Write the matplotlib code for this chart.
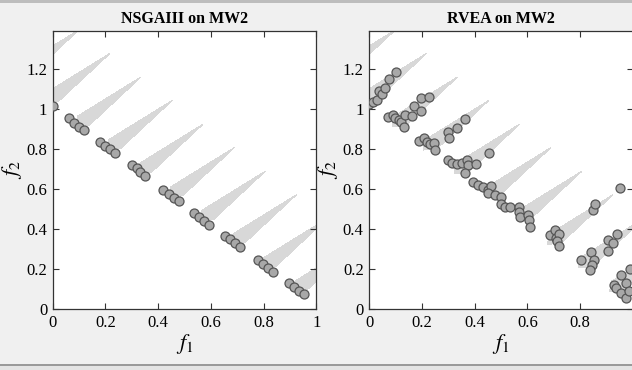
import numpy as np
import matplotlib.pyplot as plt
from matplotlib.patches import Rectangle

plt.rcParams['font.family'] = ['Liberation Serif', 'DejaVu Serif']
plt.rcParams['mathtext.fontset'] = 'stix'

# NSGA-III final population on MW2
nsga_f1 = [0.000, 0.062, 0.080, 0.101, 0.119, 0.178, 0.197, 0.216, 0.235,
           0.299, 0.318, 0.333, 0.352, 0.420, 0.441, 0.460, 0.479,
           0.537, 0.556, 0.575, 0.594, 0.654, 0.674, 0.693, 0.712,
           0.779, 0.798, 0.817, 0.836, 0.895, 0.916, 0.935, 0.952]
nsga_f2 = [1.015, 0.953, 0.931, 0.912, 0.895, 0.837, 0.817, 0.798, 0.779,
           0.720, 0.703, 0.687, 0.667, 0.595, 0.574, 0.557, 0.540,
           0.479, 0.459, 0.440, 0.420, 0.367, 0.348, 0.328, 0.310,
           0.245, 0.225, 0.207, 0.187, 0.132, 0.112, 0.092, 0.074]

# RVEA final population on MW2
rvea_f1 = [0.000, 0.013, 0.028, 0.038, 0.048, 0.061, 0.073, 0.101,
           0.071, 0.090, 0.098, 0.111, 0.121, 0.133, 0.134, 0.164, 0.168, 0.196, 0.197, 0.225,
           0.189, 0.206, 0.218, 0.232, 0.244, 0.249, 0.298, 0.303, 0.332, 0.363,
           0.297, 0.312, 0.331, 0.350, 0.369, 0.375, 0.362, 0.406, 0.454,
           0.394, 0.413, 0.431, 0.450, 0.463, 0.450, 0.476, 0.498, 0.501, 0.514, 0.533,
           0.568, 0.570, 0.573, 0.602, 0.606, 0.611,
           0.684, 0.703, 0.709, 0.719, 0.712, 0.719,
           0.804, 0.842, 0.854, 0.845, 0.838, 0.905, 0.924, 0.939, 0.905, 0.848, 0.858, 0.953,
           0.930, 0.955, 0.935, 0.955, 0.974, 0.974, 0.984, 0.990]
rvea_f2 = [1.025, 1.033, 1.045, 1.090, 1.073, 1.107, 1.148, 1.183,
           0.962, 0.970, 0.953, 0.945, 0.937, 0.912, 0.970, 0.967, 1.017, 0.990, 1.053, 1.062,
           0.840, 0.853, 0.833, 0.825, 0.828, 0.795, 0.887, 0.853, 0.903, 0.948,
           0.745, 0.728, 0.723, 0.728, 0.745, 0.720, 0.678, 0.725, 0.782,
           0.637, 0.620, 0.608, 0.595, 0.615, 0.578, 0.570, 0.558, 0.525, 0.508, 0.508,
           0.508, 0.487, 0.458, 0.470, 0.445, 0.412,
           0.370, 0.395, 0.353, 0.375, 0.340, 0.315,
           0.245, 0.287, 0.245, 0.220, 0.195, 0.345, 0.328, 0.375, 0.292, 0.495, 0.525, 0.603,
           0.122, 0.170, 0.105, 0.078, 0.128, 0.053, 0.090, 0.200]

titles = ['NSGAIII on MW2', 'RVEA on MW2']
populations = [(nsga_f1, nsga_f2), (rvea_f1, rvea_f2)]
xticks = [0, 0.2, 0.4, 0.6, 0.8, 1]
xticklabels = [['0', '0.2', '0.4', '0.6', '0.8', '1'],
               ['0', '0.2', '0.4', '0.6', '0.8', '']]  # "1" falls off the screenshot
yticks = [0, 0.2, 0.4, 0.6, 0.8, 1, 1.2]
yticklabels = ['0', '0.2', '0.4', '0.6', '0.8', '1', '1.2']

# grey spikes of the MW2 feasible region: they sit where sin(3*pi*sqrt(2)*(f2-f1)) = +-1
# and reach up to f1+f2 = 1.5; drawn as thin wedges
g1, g2 = np.meshgrid(np.linspace(0, 1.05, 900), np.linspace(0, 1.45, 1200))
s = g1 + g2
u = 3 * np.sqrt(2) * (g2 - g1) - 0.5
dist = np.abs(u - np.round(u)) / (3 * np.sqrt(2))
half_w = 0.045 * np.clip((s - 1) / 0.06, 0, 1) * np.clip((1.5 - s) / 0.44, 0, None)
feas = np.where((s >= 1) & (s <= 1.5), half_w - dist, -1)

fig = plt.figure(figsize=(6.32, 3.70), dpi=100, facecolor='#f0f0f0')
fig.add_artist(Rectangle((0, 0.993), 1, 0.007, transform=fig.transFigure,
                         color='#bdbdbd', lw=0))
fig.add_artist(Rectangle((0, 0.0), 1, 0.011, transform=fig.transFigure,
                         color='#e4e4e4', lw=0))
fig.add_artist(Rectangle((0, 0.011), 1, 0.005, transform=fig.transFigure,
                         color='#9a9a9a', lw=0))

lefts = [0.0834, 0.5843]
for i in range(2):
    ax = fig.add_axes([lefts[i], 0.1649, 0.417, 0.7514])
    ax.set_facecolor('white')
    ax.contourf(g1, g2, feas, levels=[0, 10], colors=['#d8d8d8'])
    f1, f2 = populations[i]
    ax.scatter(f1, f2, s=42, facecolor='#a8a8a8', edgecolor='#555555',
               linewidths=0.9, zorder=3)
    ax.set_xlim(0, 1)
    ax.set_ylim(0, 1.39)
    ax.set_xticks(xticks)
    ax.set_xticklabels(xticklabels[i])
    ax.set_yticks(yticks)
    ax.set_yticklabels(yticklabels)
    ax.tick_params(direction='in', length=4, width=0.8, top=True, right=True,
                   labelsize=12, pad=4, color='#333333')
    for sp in ax.spines.values():
        sp.set_color('#333333')
        sp.set_linewidth(0.9)
    ax.set_title(titles[i], fontsize=11.5, fontweight='bold', pad=6)
    ax.set_xlabel(r'$f_1$', fontsize=16, labelpad=1)
    ax.set_ylabel(r'$f_2$', fontsize=16, labelpad=2)

fig.savefig('out.png', dpi=100, facecolor=fig.get_facecolor())
